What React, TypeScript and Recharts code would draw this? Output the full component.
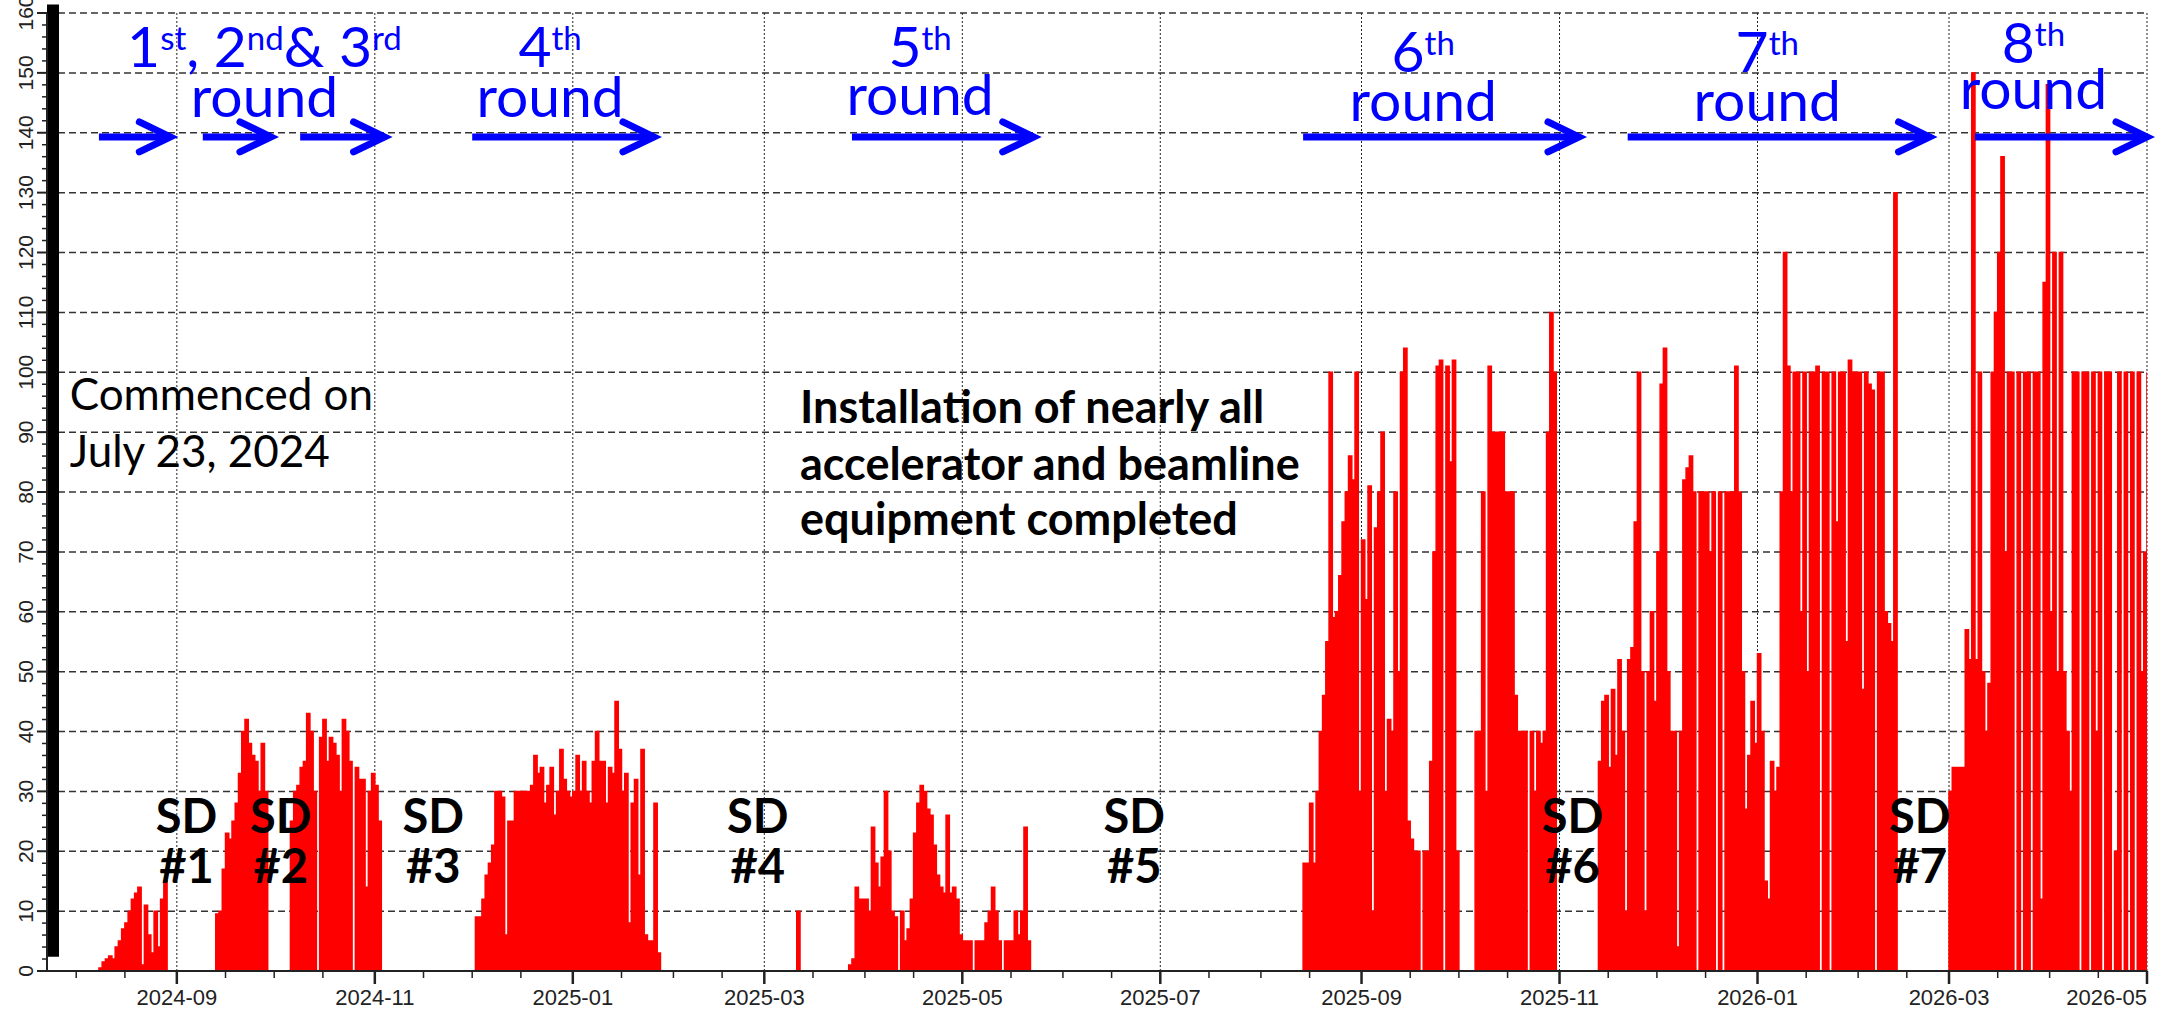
import React from "react";
import { Area, AreaChart, CartesianGrid, ReferenceArea, ReferenceDot, ReferenceLine, XAxis, YAxis } from "recharts";

const DAY = 86400000;
const ts = (s: string) => Date.parse(s + "T00:00:00Z");

const DOMAIN_START = "2024-07-23";
const DOMAIN_END = "2026-05-01";

// beam current, one value per day for each run
const run1Start = "2024-08-08";
const run1 = [0.5, 1.5, 2, 2.5, 2, 4, 5, 7, 8, 10, 12, 13, 14, 1, 11, 6, 3, 10, 4, 12, 15];

const run2Start = "2024-09-13";
const run2 = [9.5, 10, 17, 23, 22, 25, 28, 33, 40, 42, 38, 36, 35, 30, 38, 30];

const run3Start = "2024-10-06";
const run3 = [25, 30, 31, 34, 35, 43, 40, 30, 0, 39, 42, 35, 39, 38, 36, 30, 42, 40, 35, 0, 34, 32, 32, 14, 30, 33, 31, 25];

const run4Start = "2024-12-02";
const run4 = [
  9, 9, 12, 16, 18, 21, 30, 30, 29, 6, 25, 25, 30, 30, 30, 30, 30, 31, 36, 33, 34, 28, 31, 34, 26, 30, 37, 32, 30,
  29, 30, 36, 30, 35, 30, 28, 35, 40, 35, 35, 28, 34, 33, 45, 37, 30, 33, 8, 28, 32, 16, 37, 6, 5, 5, 28, 3,
];

const spikeStart = "2025-03-11";
const spike = [10];

const run5Start = "2025-03-27";
const run5 = [
  1, 2, 14, 12, 12, 12, 10, 24, 18, 14, 19, 30, 20, 10, 9, 0, 10, 5, 7, 12, 23, 28, 31, 30, 27, 26, 21, 16, 14, 13,
  26, 13, 14, 12, 6, 5, 5, 5, 0, 5, 5, 5, 8, 10, 14, 10, 5, 0, 5, 5, 5, 10, 6, 10, 24, 5,
];

const run6Start = "2025-08-14";
const run6 = [
  18, 18, 28, 18, 30, 40, 46, 55, 100, 59, 60, 66, 75, 80, 86, 82, 100, 30, 72, 62, 81, 10, 74, 80, 90, 30, 42, 40,
  80, 50, 100, 104, 25, 22, 20, 20, 0, 20, 20, 35, 70, 101, 102, 0, 101, 85, 102, 20, 0, 0, 0, 0, 0, 40, 40, 80, 30,
  101, 90, 90, 90, 90, 80, 80, 80, 46, 40, 40, 40, 0, 40, 30, 40, 38, 40, 90, 110, 100,
];

const run7Start = "2025-11-13";
const run7 = [
  35, 45, 46, 34, 47, 36, 52, 40, 10, 52, 54, 75, 100, 50, 10, 50, 60, 45, 70, 98, 104, 50, 40, 40, 4, 40, 82, 84,
  86, 80, 0, 80, 80, 80, 70, 80, 0, 80, 0, 80, 80, 80, 101, 80, 50, 27, 36, 45, 38, 53, 40, 15, 12, 35, 30, 34, 80,
  120, 101, 80, 100, 100, 60, 100, 50, 100, 100, 101, 0, 100, 100, 0, 100, 75, 100, 100, 55, 102, 100, 100, 100, 47,
  100, 98, 97, 0, 100, 100, 60, 58, 55, 130,
];

const run8Start = "2026-03-01";
const run8 = [
  30, 34, 34, 34, 34, 57, 52, 150, 52, 100, 50, 40, 48, 100, 110, 120, 136, 70, 100, 100, 0, 100, 0, 100, 100, 0,
  100, 100, 12, 115, 148, 60, 120, 50, 120, 50, 40, 30, 100, 100, 0, 100, 100, 0, 100, 40, 100, 0, 100, 100, 0, 20,
  100, 0, 100, 0, 100, 0, 100, 50, 70, 100,
];

const runs: [string, number[]][] = [
  [run1Start, run1],
  [run2Start, run2],
  [run3Start, run3],
  [run4Start, run4],
  [spikeStart, spike],
  [run5Start, run5],
  [run6Start, run6],
  [run7Start, run7],
  [run8Start, run8],
];

const majorMonths = [
  "2024-09", "2024-11", "2025-01", "2025-03", "2025-05", "2025-07",
  "2025-09", "2025-11", "2026-01", "2026-03", "2026-05",
];

const gridValues = [10, 20, 30, 40, 50, 60, 70, 80, 90, 100, 110, 120, 130, 140, 150, 160];

const roundArrows: [string, string][] = [
  ["2024-08-08", "2024-08-30"],
  ["2024-09-09", "2024-09-30"],
  ["2024-10-09", "2024-11-04"],
  ["2024-12-01", "2025-01-26"],
  ["2025-03-28", "2025-05-23"],
  ["2025-08-14", "2025-11-07"],
  ["2025-11-22", "2026-02-23"],
  ["2026-03-09", "2026-05-01"],
];

const sdLabels: [string, string][] = [
  ["2024-09-04", "#1"],
  ["2024-10-03", "#2"],
  ["2024-11-19", "#3"],
  ["2025-02-27", "#4"],
  ["2025-06-23", "#5"],
  ["2025-11-05", "#6"],
  ["2026-02-20", "#7"],
];

function buildData() {
  const end = ts(DOMAIN_END);
  const out: { t: number; v: number }[] = [{ t: ts(DOMAIN_START), v: 0 }];
  for (const [start, values] of runs) {
    const t0 = ts(start);
    values.forEach((v, i) => out.push({ t: t0 + i * DAY, v }));
    const after = t0 + values.length * DAY;
    if (after < end) out.push({ t: after, v: 0 });
  }
  if (out[out.length - 1].t < end) out.push({ t: end, v: 0 });
  return out;
}

function buildTicks() {
  const major = majorMonths.map((m) => ts(m + "-01"));
  const minor: number[] = [];
  for (let y = 2024; y <= 2026; y++) {
    for (let m = 1; m <= 12; m++) {
      const key = `${y}-${String(m).padStart(2, "0")}`;
      if (key < "2024-08" || key > "2026-04") continue;
      if (!majorMonths.includes(key)) minor.push(ts(key + "-01"));
      minor.push(ts(key + "-16"));
    }
  }
  return { major, all: [...major, ...minor].sort((a, b) => a - b) };
}

const data = buildData();
const { major: majorTicks, all: allTicks } = buildTicks();
const majorSet = new Set(majorTicks);
const lastMajor = majorTicks[majorTicks.length - 1];
const yTicks = Array.from({ length: 81 }, (_, i) => i * 2);

const AXIS_COLOR = "#222";
const BLUE = "#0000ff";
const RED = "#ff0000";
const NOTE_FONT = "Lato, 'Open Sans', sans-serif";
const ORD_SIZE = 57;
const SUP_SIZE = 33;

function XTick(props: any) {
  const { x, y, payload } = props;
  const isMajor = majorSet.has(payload.value);
  const d = new Date(payload.value);
  const label = `${d.getUTCFullYear()}-${String(d.getUTCMonth() + 1).padStart(2, "0")}`;
  // the last label is pulled inside the picture, right-aligned on its tick
  const anchor = payload.value === lastMajor ? "end" : "middle";
  return (
    <g>
      <line x1={x} x2={x} y1={y} y2={y + (isMajor ? 13 : 7)} stroke={AXIS_COLOR} strokeWidth={isMajor ? 2.5 : 1.5} />
      {isMajor && (
        <text x={x} y={y + 34} textAnchor={anchor} fontFamily="'Liberation Sans', Arial, sans-serif" fontSize={22} fill={AXIS_COLOR}>
          {label}
        </text>
      )}
    </g>
  );
}

function YTick(props: any) {
  const { x, y, payload } = props;
  const isMajor = payload.value % 10 === 0;
  return (
    <g>
      <line x1={x - (isMajor ? 10 : 5)} x2={x} y1={y} y2={y} stroke={AXIS_COLOR} strokeWidth={isMajor ? 2 : 1.5} />
      {isMajor && (
        <text
          x={x - 22}
          y={y}
          transform={`rotate(-90 ${x - 22} ${y})`}
          textAnchor="middle"
          dominantBaseline="central"
          fontFamily="'Liberation Sans', Arial, sans-serif"
          fontSize={21}
          fill={AXIS_COLOR}
        >
          {payload.value}
        </text>
      )}
    </g>
  );
}

const arrowShape = (p: any) => {
  const { x1, y1, x2 } = p;
  return (
    <g>
      <line x1={x1} y1={y1} x2={x2 - 4} y2={y1} stroke={BLUE} strokeWidth={7} />
      <polyline
        points={`${x2 - 31},${y1 - 15} ${x2},${y1} ${x2 - 31},${y1 + 15}`}
        fill="none"
        stroke={BLUE}
        strokeWidth={7}
        strokeLinecap="round"
      />
    </g>
  );
};

// ordinal label ("4" + "th") drawn at a data point, centred
const ordinalShape = (parts: [string, boolean][]) => (p: any) => (
  <text x={p.cx} y={p.cy} textAnchor="middle" fontFamily={NOTE_FONT} fontSize={ORD_SIZE} fill={BLUE}>
    {parts.map(([s, sup], i) => {
      const prevSup = i > 0 && parts[i - 1][1];
      const dy = sup ? -17 : prevSup ? 17 : 0;
      return (
        <tspan key={i} dy={dy} fontSize={sup ? SUP_SIZE : ORD_SIZE}>
          {s}
        </tspan>
      );
    })}
  </text>
);

const textShape = (text: string, opts: { size: number; color: string; bold?: boolean; anchor?: string }) => (p: any) => (
  <text
    x={p.cx}
    y={p.cy}
    textAnchor={opts.anchor ?? "middle"}
    fontFamily={NOTE_FONT}
    fontSize={opts.size}
    fontWeight={opts.bold ? 700 : 400}
    fill={opts.color}
  >
    {text}
  </text>
);

const roundLabels: { date: string; parts: [string, boolean][]; y1: number; y2: number }[] = [
  { date: "2024-09-28", parts: [["1", false], ["st", true], [", 2", false], ["nd", true], ["& 3", false], ["rd", true]], y1: 150.9, y2: 142.7 },
  { date: "2024-12-25", parts: [["4", false], ["th", true]], y1: 150.9, y2: 142.7 },
  { date: "2025-04-18", parts: [["5", false], ["th", true]], y1: 151.0, y2: 143.0 },
  { date: "2025-09-20", parts: [["6", false], ["th", true]], y1: 150.1, y2: 141.9 },
  { date: "2026-01-04", parts: [["7", false], ["th", true]], y1: 150.1, y2: 141.9 },
  { date: "2026-03-27", parts: [["8", false], ["th", true]], y1: 151.7, y2: 143.9 },
];

export default function App() {
  return (
    <div style={{ position: "absolute", left: 0, top: 0, width: 2165, height: 1009, background: "#fff" }}>
      <AreaChart width={2165} height={1009} data={data} margin={{ top: 13, right: 18, bottom: 0, left: 0 }}>
        <CartesianGrid vertical={false} horizontalValues={gridValues} stroke="#333" strokeDasharray="7 4" strokeWidth={1.5} />
        <CartesianGrid horizontal={false} verticalValues={majorTicks} stroke={AXIS_COLOR} strokeDasharray="2 2" strokeWidth={1} />
        <XAxis
          dataKey="t"
          type="number"
          domain={[ts(DOMAIN_START), ts(DOMAIN_END)]}
          allowDataOverflow
          ticks={allTicks}
          interval={0}
          tick={<XTick />}
          tickLine={false}
          tickSize={0}
          tickMargin={0}
          axisLine={{ stroke: AXIS_COLOR, strokeWidth: 2 }}
          height={38}
        />
        <YAxis
          type="number"
          domain={[0, 160]}
          allowDataOverflow
          ticks={yTicks}
          interval={0}
          tick={<YTick />}
          tickLine={false}
          tickSize={0}
          tickMargin={0}
          axisLine={{ stroke: AXIS_COLOR, strokeWidth: 2 }}
          width={47}
        />
        <Area
          type="stepAfter"
          dataKey="v"
          stroke={RED}
          strokeWidth={1.5}
          fill={RED}
          fillOpacity={1}
          dot={false}
          activeDot={false}
          isAnimationActive={false}
        />
        <ReferenceArea
          x1={ts(DOMAIN_START)}
          x2={ts(DOMAIN_START) + 3.7 * DAY}
          y1={2.4}
          y2={161.4}
          fill="#000"
          fillOpacity={1}
          stroke="none"
          ifOverflow="visible"
        />
        {roundArrows.map(([a, b], i) => (
          <ReferenceLine
            key={`arrow-${i}`}
            segment={[{ x: ts(a), y: 139.3 }, { x: ts(b), y: 139.3 }]}
            shape={arrowShape}
            ifOverflow="visible"
          />
        ))}
        {roundLabels.map((r, i) => (
          <ReferenceDot key={`ord-${i}`} x={ts(r.date)} y={r.y1} r={0} ifOverflow="visible" shape={ordinalShape(r.parts)} />
        ))}
        {roundLabels.map((r, i) => (
          <ReferenceDot
            key={`round-${i}`}
            x={ts(r.date)}
            y={r.y2}
            r={0}
            ifOverflow="visible"
            shape={textShape("round", { size: ORD_SIZE, color: BLUE })}
          />
        ))}
        {sdLabels.map(([date, num]) => (
          <ReferenceDot key={`sd-${num}`} x={ts(date)} y={23.1} r={0} shape={textShape("SD", { size: 47, color: "#000", bold: true })} />
        ))}
        {sdLabels.map(([date, num]) => (
          <ReferenceDot key={`sdn-${num}`} x={ts(date)} y={14.7} r={0} shape={textShape(num, { size: 47, color: "#000", bold: true })} />
        ))}
        <ReferenceDot x={ts("2024-07-30")} y={93.7} r={0} shape={textShape("Commenced on", { size: 44, color: "#000", anchor: "start" })} />
        <ReferenceDot x={ts("2024-07-30")} y={84.2} r={0} shape={textShape("July 23, 2024", { size: 44, color: "#000", anchor: "start" })} />
        <ReferenceDot x={ts("2025-03-12")} y={91.6} r={0} shape={textShape("Installation of nearly all", { size: 45, color: "#000", bold: true, anchor: "start" })} />
        <ReferenceDot x={ts("2025-03-12")} y={82.0} r={0} shape={textShape("accelerator and beamline", { size: 45, color: "#000", bold: true, anchor: "start" })} />
        <ReferenceDot x={ts("2025-03-12")} y={72.8} r={0} shape={textShape("equipment completed", { size: 45, color: "#000", bold: true, anchor: "start" })} />
      </AreaChart>
    </div>
  );
}
